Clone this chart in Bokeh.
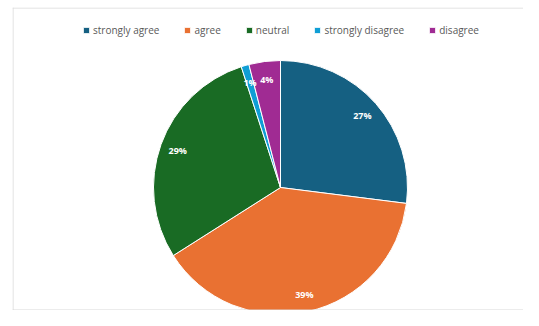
import math
from bokeh.plotting import figure
from bokeh.models import ColumnDataSource, Legend, LegendItem, Span
from bokeh.core.properties import value
from bokeh.embed import file_html
from bokeh.resources import INLINE

categories = ["strongly agree", "agree", "neutral", "strongly disagree", "disagree"]
percents = [27, 39, 29, 1, 4]
colors = ["#156082", "#E97132", "#196B24", "#0F9ED5", "#A02B93"]
labels = ["27%", "39%", "29%", "1%", "4%"]

W, H = 523, 310
BL, BT = 12, 7
FW, FH = W - BL, H - BT
cx, cy, R = 268, 123, 127

total = sum(percents)
starts, ends, lx, ly = [], [], [], []
acc = 0.0
for v in percents:
    a0 = math.pi / 2 - 2 * math.pi * acc / total
    a1 = math.pi / 2 - 2 * math.pi * (acc + v) / total
    starts.append(a1)
    ends.append(a0)
    mid = (a0 + a1) / 2
    lx.append(cx + 0.86 * R * math.cos(mid))
    ly.append(cy + 0.86 * R * math.sin(mid))
    acc += v

src = ColumnDataSource(dict(cat=categories, start=starts, end=ends, color=colors,
                            lx=lx, ly=ly, lab=labels))

p = figure(width=W, height=H, x_range=(0, FW), y_range=(0, FH),
           output_backend="svg", toolbar_location=None,
           min_border_left=BL, min_border_top=BT, min_border_right=0, min_border_bottom=0)
p.axis.visible = False
p.grid.visible = False
p.outline_line_color = None
p.background_fill_color = "white"

for loc, dim in [(0.5, "height"), (FH - 0.5, "width"), (0.5, "width")]:
    p.add_layout(Span(location=loc, dimension=dim, line_color="#d9d9d9", line_width=1))

renderers = []
for i in range(len(categories)):
    r = p.wedge(x=cx, y=cy, radius=R, start_angle=starts[i], end_angle=ends[i],
                fill_color=colors[i], line_color="white", line_width=1)
    renderers.append(r)

p.text(x="lx", y="ly", text="lab", source=src, text_color="white",
       text_font=value("Open Sans"), text_font_style="bold", text_font_size="9px",
       text_align="center", text_baseline="middle")

legend = Legend(items=[LegendItem(label=categories[i], renderers=[renderers[i]]) for i in range(len(categories))],
                orientation="horizontal", location=(70, FH - 30),
                label_text_font="Open Sans", label_text_font_size="10px",
                label_text_color="#595959", glyph_width=8, glyph_height=8,
                label_standoff=3, spacing=24, padding=0, margin=0,
                border_line_color=None, background_fill_alpha=0)
p.add_layout(legend, "center")

open("out.html", "w").write(file_html(p, INLINE))
